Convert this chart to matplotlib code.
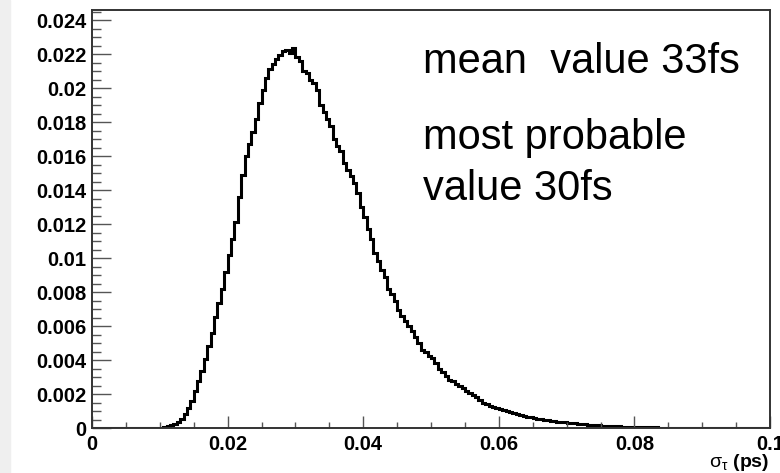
import matplotlib
matplotlib.use('Agg')
import matplotlib.pyplot as plt
import numpy as np
from matplotlib.patches import Rectangle
from matplotlib.ticker import MultipleLocator, FuncFormatter

# histogram of sigma_tau (ps), 200 bins from 0 to 0.1
x_min, x_max, n_bins = 0.0, 0.1, 200
density = [
    0, 0, 0, 0, 0, 0, 0, 0, 0, 0,
    0, 0, 0, 0, 0, 0, 0, 0, 0, 0,
    0.00002, 0.00005, 0.00009, 0.00015, 0.00024, 0.00036, 0.00055, 0.00082, 0.0012, 0.0016,
    0.00215, 0.00275, 0.00335, 0.00405, 0.0048, 0.0056, 0.00655, 0.00735, 0.0082, 0.0092,
    0.01015, 0.0111, 0.0121, 0.0136, 0.0149, 0.016, 0.0167, 0.0174, 0.0182, 0.0191,
    0.0199, 0.0206, 0.0211, 0.0214, 0.0217, 0.02195, 0.0222, 0.02225, 0.02205, 0.02235,
    0.0218, 0.0216, 0.021, 0.0209, 0.0205, 0.0203, 0.0199, 0.019, 0.0186, 0.0182,
    0.01775, 0.017, 0.0166, 0.0163, 0.0156, 0.0152, 0.0148, 0.0144, 0.0138, 0.013,
    0.0124, 0.0117, 0.0111, 0.0103, 0.0098, 0.0093, 0.0089, 0.0082, 0.0079, 0.0075,
    0.00695, 0.0066, 0.0063, 0.006, 0.0057, 0.00535, 0.005, 0.0046, 0.00445, 0.00425,
    0.0041, 0.0038, 0.00345, 0.0033, 0.00305, 0.00285, 0.00275, 0.0026, 0.0025, 0.00235,
    0.0022, 0.00205, 0.00195, 0.0018, 0.00165, 0.0015, 0.0014, 0.0013, 0.00125, 0.0012,
    0.00112, 0.00105, 0.001, 0.00095, 0.0009, 0.00085, 0.00078, 0.00072, 0.00066, 0.00062,
    0.00058, 0.00055, 0.00052, 0.00049, 0.00046, 0.00043, 0.00041, 0.00038, 0.00036, 0.00034,
    0.00032, 0.0003, 0.00027, 0.00025, 0.00023, 0.00021, 0.00019, 0.00017, 0.00016, 0.00015,
    0.00013, 0.00012, 0.00011, 0.000105, 0.0001, 0.00009, 0.00008, 0.000075, 0.00007, 0.00006,
    0.000055, 0.00005, 0.000045, 0.00004, 0.000035, 0.00003, 0.00003, 0.000025, 0.00002, 0.00002,
    0.000018, 0.000015, 0.000013, 0.000012, 0.00001, 0.00001, 0.000008, 0.000008, 0.000007, 0.000006,
    0.000005, 0.000005, 0.000004, 0.000004, 0.000004, 0.000003, 0.000003, 0.000003, 0.000002, 0.000002,
    0.000002, 0.000002, 0.000002, 0.000001, 0.000001, 0.000001, 0.000001, 0.000001, 0.000001, 0.000001,
]
y_top = 0.02459
notes = ["mean  value 33fs", "most probable", "value 30fs"]

plt.rcParams['font.family'] = ['Liberation Sans', 'DejaVu Sans']
plt.rcParams['mathtext.fontset'] = 'custom'
plt.rcParams['mathtext.rm'] = 'Liberation Sans'
plt.rcParams['mathtext.it'] = 'Liberation Sans'
plt.rcParams['mathtext.bf'] = 'Liberation Sans:bold'

W, H = 780, 473
fig = plt.figure(figsize=(W / 100, H / 100), dpi=100)
# light grey strip down the left edge, as in the slide
fig.patches.append(Rectangle((0, 0), 10 / W, 1, transform=fig.transFigure,
                             color='#efefef', zorder=0))

ax = fig.add_axes([92 / W, (H - 428) / H, (770 - 92) / W, (428 - 10) / H])

edges = np.linspace(x_min, x_max, n_bins + 1)
ax.stairs(density, edges, color='black', linewidth=2.2)

ax.set_xlim(x_min, x_max)
ax.set_ylim(0, y_top)

ax.xaxis.set_major_locator(MultipleLocator(0.02))
ax.xaxis.set_minor_locator(MultipleLocator(0.005))
ax.yaxis.set_major_locator(MultipleLocator(0.002))
ax.yaxis.set_minor_locator(MultipleLocator(0.0005))
fmt = FuncFormatter(lambda v, p: f'{round(v, 6):g}')
ax.xaxis.set_major_formatter(fmt)
ax.yaxis.set_major_formatter(fmt)

ax.tick_params(axis='both', which='both', direction='in', top=False, right=False,
               color='#555555', width=1.0)
ax.tick_params(axis='x', which='major', length=8.6, pad=5)
ax.tick_params(axis='x', which='minor', length=4.3)
ax.tick_params(axis='y', which='major', length=13.7, pad=4)
ax.tick_params(axis='y', which='minor', length=6.5)
for lab in ax.get_xticklabels() + ax.get_yticklabels():
    lab.set_fontweight('bold')
    lab.set_fontsize(14.5)

for sp in ax.spines.values():
    sp.set_linewidth(1.4)
    sp.set_color('#333333')

fig.text(769 / W, 1 - 467 / H, r'$\mathrm{\sigma}_{\mathrm{\tau}}$ $\mathbf{(ps)}$',
         ha='right', va='baseline', fontsize=14)

fig.text(423 / W, 1 - 73 / H, notes[0], fontsize=30, va='baseline')
fig.text(423 / W, 1 - 149 / H, notes[1], fontsize=30, va='baseline')
fig.text(423 / W, 1 - 200 / H, notes[2], fontsize=30, va='baseline')

fig.savefig('out.png', dpi=100)
